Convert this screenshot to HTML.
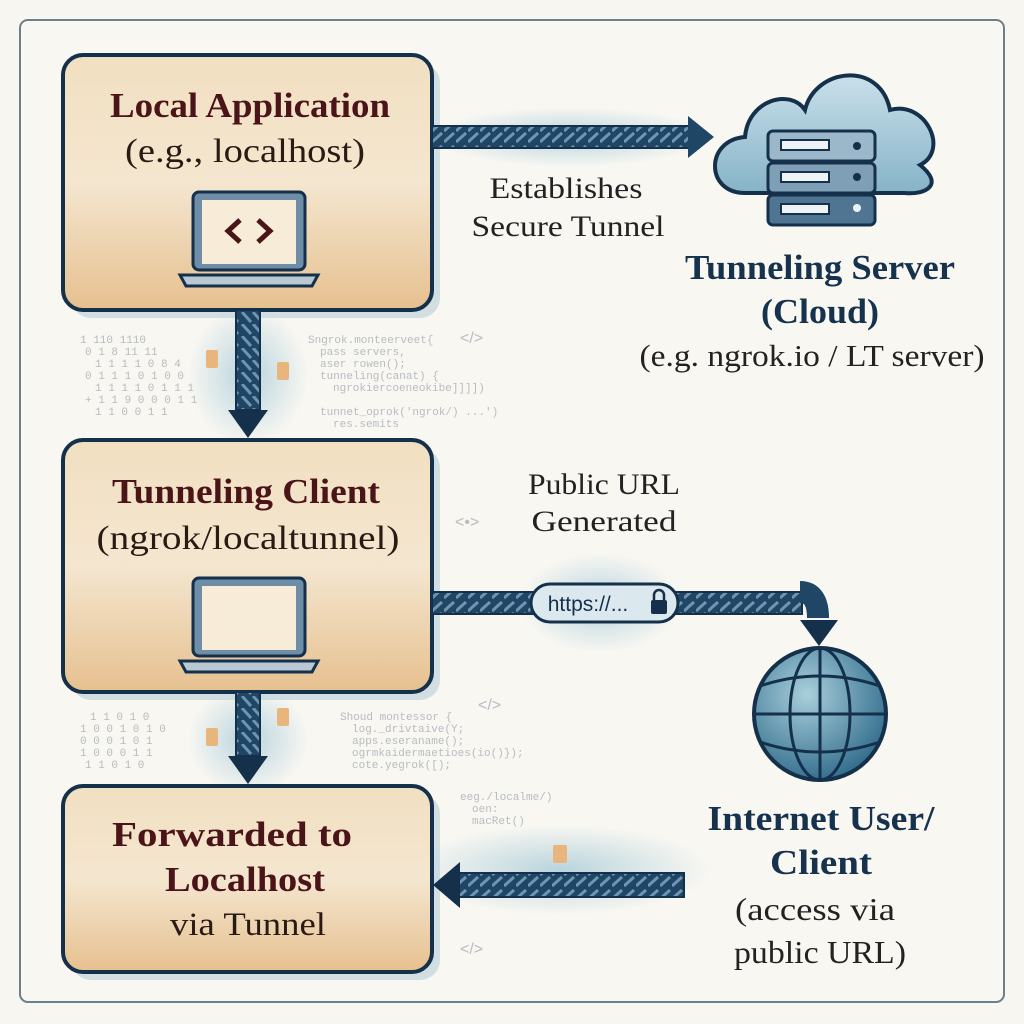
<!DOCTYPE html>
<html><head><meta charset="utf-8"><style>
html,body{margin:0;padding:0;background:#f7f6f1;}
svg{display:block}
</style></head><body>
<svg width="1024" height="1024" viewBox="0 0 1024 1024" xmlns="http://www.w3.org/2000/svg">
<defs>
<linearGradient id="bx" x1="0" y1="0" x2="0" y2="1">
<stop offset="0" stop-color="#f1dfc1"/><stop offset="0.5" stop-color="#f4e6cf"/><stop offset="1" stop-color="#e6c08f"/>
</linearGradient>
<radialGradient id="glow" cx="0.5" cy="0.5" r="0.5">
<stop offset="0" stop-color="#8fbdd0" stop-opacity="0.6"/><stop offset="1" stop-color="#8fbdd0" stop-opacity="0"/>
</radialGradient>
<pattern id="rope" width="12" height="24" patternUnits="userSpaceOnUse">
<rect width="12" height="24" fill="#1f4664"/>
<path d="M0 11 L10 2 M0 22 L10 13" stroke="#6f95b3" stroke-width="3"/>
</pattern>
<pattern id="ropev" width="24" height="12" patternUnits="userSpaceOnUse">
<rect width="24" height="12" fill="#1f4664"/>
<path d="M2 0 L11 10 M13 0 L22 10" stroke="#6f95b3" stroke-width="3"/>
</pattern>
<linearGradient id="cl" x1="0" y1="0" x2="0" y2="1"><stop offset="0" stop-color="#c9e0ea"/><stop offset="1" stop-color="#86b3c8"/></linearGradient>
<radialGradient id="gl" cx="0.4" cy="0.35" r="0.7"><stop offset="0" stop-color="#a8cfdb"/><stop offset="1" stop-color="#2f6a8a"/></radialGradient>
</defs>
<rect x="20" y="20" width="984" height="982" rx="8" fill="#f8f7f2" stroke="#6b7f8c" stroke-width="2"/>

<ellipse cx="248" cy="375" rx="60" ry="70" fill="url(#glow)"/>
<ellipse cx="248" cy="740" rx="60" ry="55" fill="url(#glow)"/>
<ellipse cx="570" cy="137" rx="140" ry="30" fill="url(#glow)"/>
<ellipse cx="600" cy="603" rx="80" ry="50" fill="url(#glow)"/>
<ellipse cx="560" cy="870" rx="150" ry="45" fill="url(#glow)"/>

<g font-family="Liberation Mono, monospace" font-size="11" fill="#b8bcc0">
<text x="308" y="343">Sngrok.monteerveet{</text><text x="320" y="355">pass servers,</text><text x="320" y="367">aser rowen();</text><text x="320" y="379">tunneling(canat) {</text><text x="333" y="391">ngrokiercoeneokibe]]]])</text><text x="320" y="415">tunnet_oprok('ngrok/) ...')</text><text x="333" y="427">res.semits</text>
<text x="80" y="343">1 110 1110</text><text x="85" y="355">0 1  8 11 11</text><text x="95" y="367">1 1 1 1 0 8 4</text><text x="85" y="379">0 1 1 1 0 1 0 0</text><text x="95" y="391">1 1 1 1 0 1 1 1</text><text x="85" y="403">+ 1 1 9 0 0 0 1 1</text><text x="95" y="415">1  1 0 0 1 1</text>
<text x="340" y="720">Shoud montessor {</text><text x="352" y="732">log._drivtaive(Y;</text><text x="352" y="744">apps.eseraname();</text><text x="352" y="756">ogrmkaidermaetioes(io()});</text><text x="352" y="768">cote.yegrok([);</text>
<text x="90" y="720">1 1 0 1 0</text><text x="80" y="732">1 0 0 1 0 1 0</text><text x="80" y="744">0 0 0 1 0 1</text><text x="80" y="756">1 0 0 0 1 1</text><text x="85" y="768">1 1 0 1 0</text>
<text x="460" y="800">eeg./localme/)</text><text x="472" y="812">oen:</text><text x="472" y="824">macRet()</text>
</g>
<g font-family="Liberation Sans, sans-serif" font-size="16" fill="#b8bcc0">
<text x="460" y="343">&lt;/&gt;</text><text x="478" y="710">&lt;/&gt;</text><text x="460" y="954">&lt;/&gt;</text><text x="455" y="527">&lt;•&gt;</text>
</g>

<g stroke="#14304a" stroke-width="4">
<rect x="71" y="63" width="369" height="255" rx="20" fill="#b8cfd9" stroke="none" opacity="0.6"/>
<rect x="63" y="55" width="369" height="255" rx="20" fill="url(#bx)"/>
<rect x="71" y="448" width="369" height="252" rx="20" fill="#b8cfd9" stroke="none" opacity="0.6"/>
<rect x="63" y="440" width="369" height="252" rx="20" fill="url(#bx)"/>
<rect x="71" y="794" width="369" height="186" rx="20" fill="#b8cfd9" stroke="none" opacity="0.6"/>
<rect x="63" y="786" width="369" height="186" rx="20" fill="url(#bx)"/>
</g>

<g font-family="Liberation Serif, serif" text-anchor="middle" lengthAdjust="spacingAndGlyphs">
<text x="250" y="117" font-size="35" font-weight="bold" fill="#4a1418" textLength="280" lengthAdjust="spacingAndGlyphs">Local Application</text>
<text x="245" y="162" font-size="34" fill="#2a1a14" textLength="240" lengthAdjust="spacingAndGlyphs">(e.g., localhost)</text>
<text x="246" y="503" font-size="35" font-weight="bold" fill="#4a1418" textLength="268" lengthAdjust="spacingAndGlyphs">Tunneling Client</text>
<text x="248" y="549" font-size="34" fill="#2a1a14" textLength="303" lengthAdjust="spacingAndGlyphs">(ngrok/localtunnel)</text>
<text x="232" y="846" font-size="35" font-weight="bold" fill="#4a1418" textLength="240" lengthAdjust="spacingAndGlyphs">Forwarded to</text>
<text x="245" y="891" font-size="35" font-weight="bold" fill="#4a1418" textLength="160" lengthAdjust="spacingAndGlyphs">Localhost</text>
<text x="248" y="935" font-size="33" fill="#2a1a14" textLength="156" lengthAdjust="spacingAndGlyphs">via Tunnel</text>
<text x="566" y="198" font-size="30" fill="#222" textLength="153" lengthAdjust="spacingAndGlyphs">Establishes</text>
<text x="568" y="236" font-size="30" fill="#222" textLength="193" lengthAdjust="spacingAndGlyphs">Secure Tunnel</text>
<text x="604" y="494" font-size="30" fill="#222" textLength="152" lengthAdjust="spacingAndGlyphs">Public URL</text>
<text x="604" y="531" font-size="30" fill="#222" textLength="145" lengthAdjust="spacingAndGlyphs">Generated</text>
<text x="820" y="279" font-size="35" font-weight="bold" fill="#16324c" textLength="270" lengthAdjust="spacingAndGlyphs">Tunneling Server</text>
<text x="820" y="323" font-size="35" font-weight="bold" fill="#16324c" textLength="118" lengthAdjust="spacingAndGlyphs">(Cloud)</text>
<text x="812" y="366" font-size="31" fill="#222" textLength="345" lengthAdjust="spacingAndGlyphs">(e.g. ngrok.io / LT server)</text>
<text x="821" y="830" font-size="35" font-weight="bold" fill="#16324c" textLength="227" lengthAdjust="spacingAndGlyphs">Internet User/</text>
<text x="821" y="874" font-size="35" font-weight="bold" fill="#16324c" textLength="102" lengthAdjust="spacingAndGlyphs">Client</text>
<text x="815" y="920" font-size="32" fill="#222" textLength="160" lengthAdjust="spacingAndGlyphs">(access via</text>
<text x="820" y="963" font-size="32" fill="#222" textLength="172" lengthAdjust="spacingAndGlyphs">public URL)</text>
</g>

<g>
<rect x="193" y="192" width="112" height="78" rx="6" fill="#6e8ea8" stroke="#14304a" stroke-width="3"/>
<rect x="202" y="200" width="94" height="64" fill="#f6ecd8"/>
<path d="M180 275 H318 L312 286 H186 Z" fill="#b9c8d3" stroke="#14304a" stroke-width="3"/>
</g>
<path d="M240 220 L228 231 L240 242 M258 220 L270 231 L258 242" fill="none" stroke="#4a1418" stroke-width="5"/>
<g transform="translate(0,386)">
<rect x="193" y="192" width="112" height="78" rx="6" fill="#6e8ea8" stroke="#14304a" stroke-width="3"/>
<rect x="202" y="200" width="94" height="64" fill="#f6ecd8"/>
<path d="M180 275 H318 L312 286 H186 Z" fill="#b9c8d3" stroke="#14304a" stroke-width="3"/>
</g>

<rect x="236" y="310" width="24" height="100" fill="url(#ropev)" stroke="#14304a" stroke-width="2"/>
<path d="M228 410 H268 L248 438 Z" fill="#14304a"/>
<rect x="236" y="692" width="24" height="64" fill="url(#ropev)" stroke="#14304a" stroke-width="2"/>
<path d="M228 756 H268 L248 784 Z" fill="#14304a"/>
<rect x="206" y="350" width="12" height="18" rx="2" fill="#e8b67d"/><rect x="277" y="362" width="12" height="18" rx="2" fill="#e8b67d"/>
<rect x="206" y="728" width="12" height="18" rx="2" fill="#e8b67d"/><rect x="277" y="708" width="12" height="18" rx="2" fill="#e8b67d"/>

<rect x="432" y="126" width="258" height="22" fill="url(#rope)" stroke="#14304a" stroke-width="2"/>
<path d="M688 116 L714 137 L688 158 Z" fill="#1f4664"/>

<rect x="432" y="592" width="370" height="22" fill="url(#rope)" stroke="#14304a" stroke-width="2"/>
<path d="M800 592 Q818 592 818 618" fill="none" stroke="#1f4664" stroke-width="22"/>
<path d="M800 620 H838 L819 646 Z" fill="#14304a"/>
<rect x="531" y="584" width="147" height="38" rx="19" fill="#dbe9ef" stroke="#14304a" stroke-width="3"/>
<text x="588" y="611" font-family="Liberation Sans, sans-serif" font-size="21" fill="#14304a" text-anchor="middle">https://...</text>
<rect x="651" y="600" width="16" height="14" rx="2" fill="#14304a"/>
<path d="M654 600 V595 a5 5 0 0 1 10 0 V600" fill="none" stroke="#14304a" stroke-width="2.5"/>

<rect x="458" y="873" width="226" height="24" fill="url(#rope)" stroke="#14304a" stroke-width="2"/>
<path d="M460 862 V908 L433 885 Z" fill="#14304a"/>
<rect x="553" y="845" width="14" height="18" rx="2" fill="#e8b67d"/>

<path d="M745 193 C705 193 705 140 745 137 C748 100 790 88 805 110 C815 68 880 60 890 110 C925 100 950 150 920 165 C945 185 925 195 905 193 Z" fill="url(#cl)" stroke="#14304a" stroke-width="4"/>
<g stroke="#14304a" stroke-width="3">
<rect x="768" y="131" width="107" height="30" rx="5" fill="#9bb8cb"/>
<rect x="768" y="163" width="107" height="30" rx="5" fill="#7f9fb6"/>
<rect x="768" y="195" width="107" height="30" rx="5" fill="#4f7592"/>
<rect x="781" y="140" width="48" height="10" fill="#eef3f6" stroke-width="2"/>
<rect x="781" y="172" width="48" height="10" fill="#eef3f6" stroke-width="2"/>
<rect x="781" y="204" width="48" height="10" fill="#eef3f6" stroke-width="2"/>
</g>
<circle cx="857" cy="146" r="4" fill="#14304a"/><circle cx="857" cy="177" r="4" fill="#14304a"/><circle cx="857" cy="208" r="4" fill="#eef3f6"/>

<circle cx="820" cy="714" r="66" fill="url(#gl)" stroke="#14304a" stroke-width="4"/>
<g fill="none" stroke="#14304a" stroke-width="3">
<ellipse cx="820" cy="714" rx="30" ry="66"/>
<line x1="820" y1="648" x2="820" y2="780"/>
<path d="M760 686 Q820 666 880 686 M754 714 H886 M760 742 Q820 762 880 742"/>
</g>
</svg>
</body></html>
